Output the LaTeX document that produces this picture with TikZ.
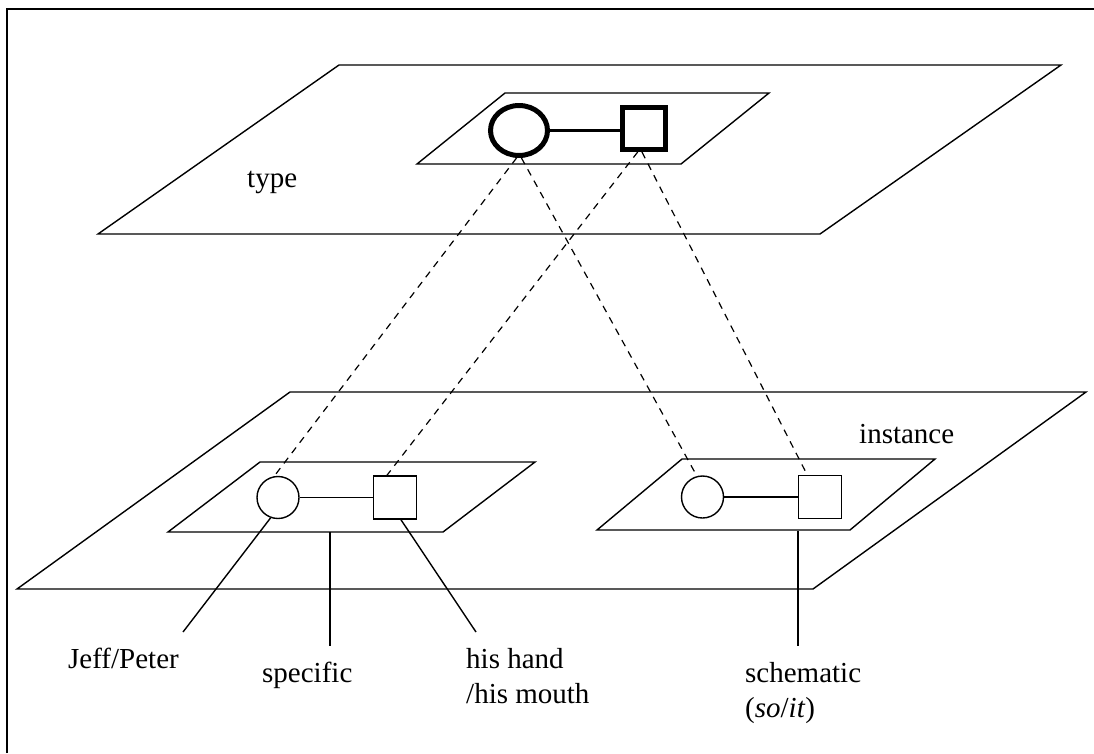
\documentclass[tikz,border=0pt]{standalone}
\usepackage{fontspec}
\setmainfont{Liberation Serif}
\usetikzlibrary{shapes.geometric}
\begin{document}
\begin{tikzpicture}[x=1pt,y=-1pt,
  frame/.style={line width=2pt},
  plane/.style={line width=1.4pt, line join=miter},
  thinline/.style={line width=1.4pt},
  link/.style={line width=1.2pt, dash pattern=on 7pt off 6pt},
  bigrole/.style={ellipse, draw, line width=5pt, minimum width=57pt, minimum height=50pt, inner sep=0pt},
  bigthing/.style={rectangle, draw, line width=5pt, minimum width=43pt, minimum height=42pt, inner sep=0pt},
  role/.style={circle, draw, line width=1.4pt, minimum size=42pt, inner sep=0pt},
  thing/.style={rectangle, draw, line width=1.4pt, minimum size=43pt, inner sep=0pt},
  lbl/.style={font=\fontsize{29}{35}\selectfont, inner sep=0pt, anchor=base west, align=left}
]
\useasboundingbox (0,0) rectangle (1094,753);

% frame (only its top and left sides fall inside the page)
\draw[frame] (7,753) -- (7,9) -- (1094,9);

% type plane and its inner region
\draw[plane] (339,65) -- (1061,65) -- (820,234) -- (98,234) -- cycle;
\draw[plane] (505,93) -- (769,93) -- (681,164) -- (417,164) -- cycle;

% instance plane and its two inner regions
\draw[plane] (290,392) -- (1086,392) -- (813,589) -- (17,589) -- cycle;
\draw[plane] (260,462) -- (535,462) -- (443,532) -- (168,532) -- cycle;
\draw[plane] (682,459) -- (935,459) -- (850,530) -- (597,530) -- cycle;

% type-level schema
\node[bigrole]  (tc) at (519,130.5) {};
\node[bigthing] (ts) at (644,128.5) {};
\draw[line width=3.5pt] (tc.east) -- (tc.east -| ts.west);

% specific instance
\node[role]  (lc) at (278,497.5) {};
\node[thing] (ls) at (395,497.5) {};
\draw[thinline] (lc.east) -- (ls.west);

% schematic instance
\node[role]  (rc) at (702.5,497) {};
\node[thing] (rs) at (820,497) {};
\draw[thinline] (rc.east) -- (rs.west);

% instantiation links
\draw[link] (tc.-95)  -- (lc.100);
\draw[link] (tc.-85)  -- (rc.105);
\draw[link] (ts.-105) -- (ls.110);
\draw[link] (ts.-95)  -- (rs.120);

% labels (multi-line labels sit on the baseline of their last line)
\node[lbl] (ltype) at (247,187) {type};
\node[lbl] (linst) at (859,443) {instance};
\node[lbl] (ljeff) at (68,668) {Jeff/Peter};
\node[lbl] (lspec) at (262,682) {specific};
\node[lbl] (lhand) at (466,703) {his hand\\/his mouth};
\node[lbl] (lsche) at (745,717) {schematic\\(\textit{so}/\textit{it})};

% pointer lines to the labels
\coordinate (pjeff) at (183,632);
\coordinate (pspec) at (330,646);
\coordinate (pspectop) at (330,532);
\coordinate (phand) at (476,632);
\coordinate (psche) at (798,646);
\coordinate (pschetop) at (798,531);
\draw[thinline] (lc.-110) -- (pjeff);
\draw[thinline] (pspectop) -- (pspec);
\draw[thinline] (ls.-75) -- (phand);
\draw[thinline] (pschetop) -- (psche);
\end{tikzpicture}
\end{document}
